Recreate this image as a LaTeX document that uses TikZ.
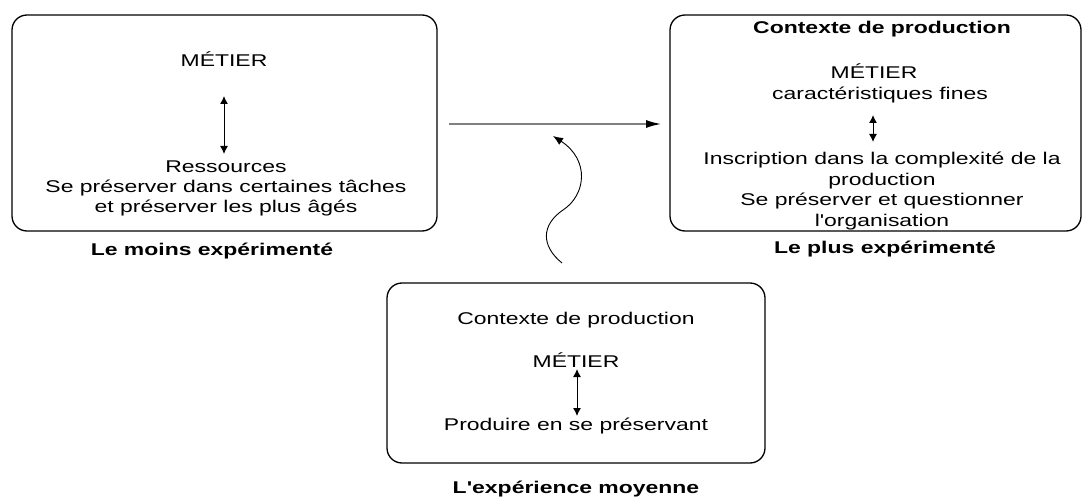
\documentclass[tikz,border=0pt]{standalone}
\usepackage{fontspec}
\setmainfont{Liberation Sans}[FakeStretch=1.35,Ligatures=TeXOff]
\usetikzlibrary{arrows.meta}
\tikzset{
  box/.style={draw=black,line width=1.3pt,rounded corners=15pt},
  txt/.style={anchor=base,inner sep=0pt,font=\fontsize{17}{20.5}\selectfont},
  btxt/.style={txt,font=\fontsize{17}{20.5}\selectfont\bfseries},
  dbl/.style={line width=1pt,{Latex[length=8pt,width=8pt]}-{Latex[length=8pt,width=8pt]}},
}
\begin{document}
\begin{tikzpicture}[x=1pt,y=-1pt]
\useasboundingbox (0,0) rectangle (1084,497);
% left box
\draw[box] (12,15) rectangle (437,231);
\node[txt] (mL) at (224,67) {MÉTIER};
\coordinate (aL1) at (224,96);
\coordinate (aL2) at (224,154);
\draw[dbl] (aL1) -- (aL2);
\node[txt] (rL1) at (226,173) {Ressources};
\node[txt] (rL2) at (226,193) {Se préserver dans certaines tâches};
\node[txt] (rL3) at (226,213) {et préserver les plus âgés};
\node[btxt] (labL) at (212,255) {Le moins expérimenté};
% right box
\draw[box] (670,15) rectangle (1081,231);
\node[btxt] (cR) at (882,34) {Contexte de production};
\node[txt] (mR) at (874,79) {MÉTIER};
\node[txt] (fR) at (880,100) {caractéristiques fines};
\coordinate (aR1) at (873,115);
\coordinate (aR2) at (873,142);
\draw[dbl] (aR1) -- (aR2);
\node[txt] (iR1) at (882,165) {Inscription dans la complexité de la};
\node[txt] (iR2) at (882,185.5) {production};
\node[txt] (iR3) at (882,206) {Se préserver et questionner};
\node[txt] (iR4) at (882,226.5) {l'organisation};
\node[btxt] (labR) at (885,253) {Le plus expérimenté};
% bottom box
\draw[box] (387,283) rectangle (765,463);
\node[txt] (cB) at (576,324) {Contexte de production};
\node[txt] (mB) at (576,367) {MÉTIER};
\coordinate (aB1) at (577,369);
\coordinate (aB2) at (577,416);
\draw[dbl] (aB1) -- (aB2);
\node[txt] (pB) at (576,430) {Produire en se préservant};
\node[btxt] (labB) at (576,493) {L'expérience moyenne};
% main arrow
\coordinate (h1) at (449,124);
\coordinate (h2) at (661,124);
\draw[line width=1.4pt,draw=black!50,-{Latex[length=15pt,width=8pt,black]}] (h1) -- (h2);
% wavy arrow
\coordinate (w1) at (562,263);
\coordinate (w2) at (553,136);
\draw[line width=0.9pt,-{Latex[length=10pt,width=8pt]}] (w1) .. controls (541,246) and (541,225) .. (563,210) .. controls (586,195) and (590,160) .. (w2);
\end{tikzpicture}
\end{document}
